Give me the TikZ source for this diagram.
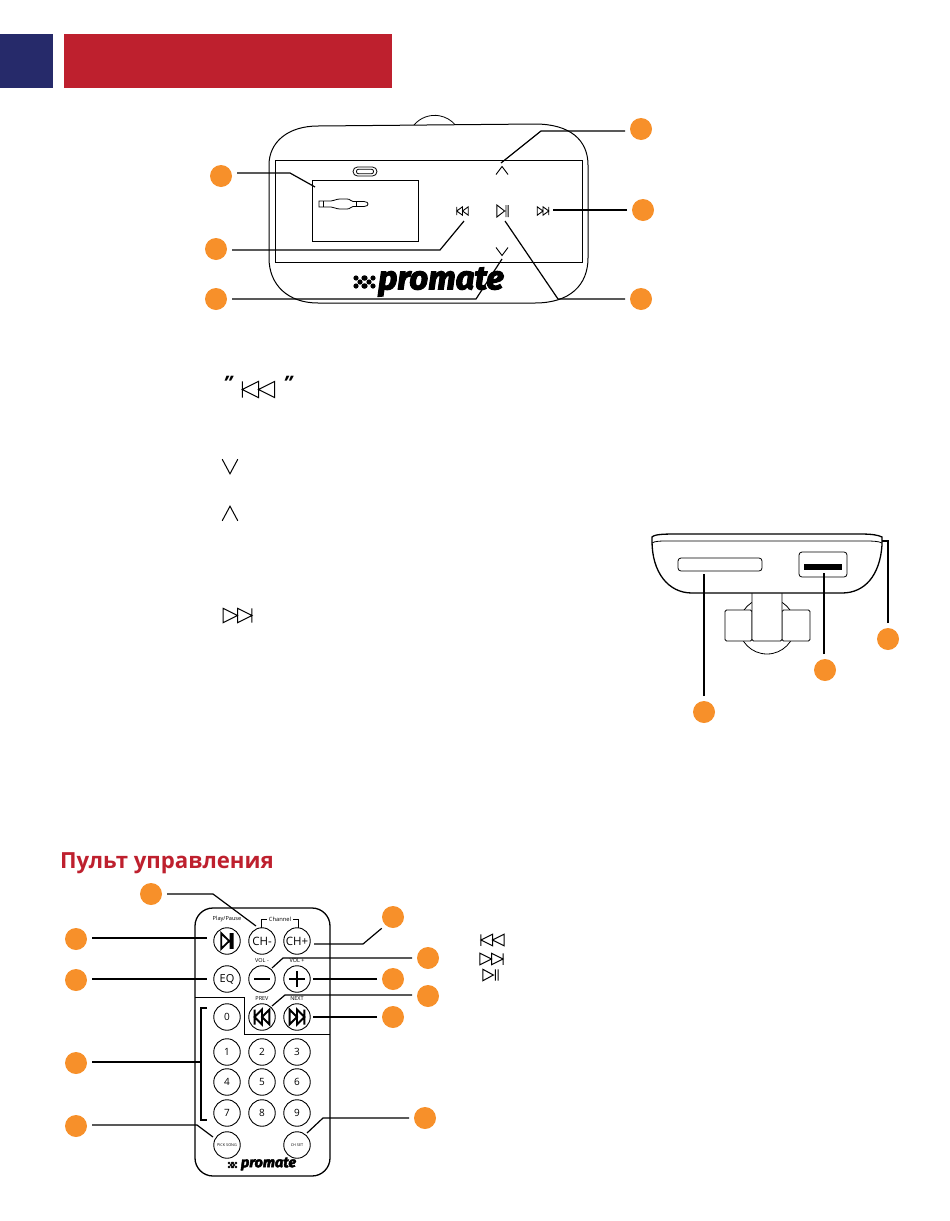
\documentclass[tikz,border=0pt]{standalone}
\usepackage{fontspec}
\setmainfont{Open Sans}
\newfontfamily\logofont{Fira Sans}[FakeBold=3.2]
\usetikzlibrary{positioning}
\definecolor{promateRed}{RGB}{190,32,46}
\definecolor{promateBlue}{RGB}{38,42,106}
\definecolor{badgeOrange}{RGB}{247,144,42}

\tikzset{
	previcon/.pic={\draw (-12,-6) -- (-12,6) (-12,0) -- (0,-6) -- (0,6) -- cycle (0,0) -- (12,-6) -- (12,6) -- cycle;},
	nexticon/.pic={\draw (12,-6) -- (12,6) (12,0) -- (0,-6) -- (0,6) -- cycle (0,0) -- (-12,-6) -- (-12,6) -- cycle;},
	playicon/.pic={\draw (-8,-6) -- (-8,6) -- (3,0) -- cycle (5,-6) -- (5,6) (8,-6) -- (8,6);},
	upicon/.pic={\draw (-6,4) -- (0,-4) -- (6,4);},
	downicon/.pic={\draw (-6,-4) -- (0,4) -- (6,-4);},
	logomark/.pic={\fill (-4,-4) circle (2.6) (4,-4) circle (2.6) (0,0) circle (2.6) (-4,4) circle (2.6) (4,4) circle (2.6);}
}

\begin{document}
\begin{tikzpicture}[x=1pt,y=-1pt]
	\tikzstyle{badge} = [circle,fill=badgeOrange,minimum size=22pt,inner sep=0,outer sep=5pt]
	\tikzstyle{leader} = [line width=1.2pt]
	\tikzstyle{thinline} = [line width=0.8pt]
	\tikzstyle{rbutton} = [circle,draw,line width=0.9pt,minimum size=26.5pt,inner sep=0,font=\fontsize{10}{10}\selectfont]
	\tikzstyle{rlabel} = [inner sep=0,font=\fontsize{5.5}{6}\selectfont]
	\tikzstyle{boxicon} = [line width=0.9pt]
	\tikzstyle{texticon} = [line width=1pt]
	\tikzstyle{fatglyph} = [line width=1.9pt]

	\useasboundingbox (0,0) rectangle (950,1221);

	% header bars
	\fill[promateBlue] (0,34) rectangle (53,88);
	\fill[promateRed] (64,34) rectangle (392,88);

	% transmitter, front view
	\draw[thinline] (414,125) arc (-140:-40:27);
	\draw[line width=1pt,fill=white] (318,126) -- (535,124) .. controls (570,124) and (588,140) .. (588,165) -- (588,258) .. controls (588,285) and (570,303) .. (535,303) -- (318,303) .. controls (288,303) and (269,285) .. (269,258) -- (269,165) .. controls (269,142) and (288,126) .. (318,126) -- cycle;
	\node[draw,thinline,minimum width=307pt,minimum height=102pt] (panel) at (428.5,211) {};
	\node[draw,thinline,minimum width=106pt,minimum height=61pt] (display) at (365,210.5) {};
	\node[draw,thinline,rounded corners=4.5pt,minimum width=24pt,minimum height=9pt,inner sep=0] (pill) at (365,171.5) {};
	\node[draw,thinline,rounded corners=2pt,minimum width=17pt,minimum height=4.5pt,inner sep=0] (pillin) at (365,171.5) {};
	\draw[thinline] (319,201) -- (331,201) .. controls (334,201) and (336,199) .. (340,199) -- (347,199) .. controls (351,199) and (350,201.5) .. (353,201.5) -- (364,201.5) .. controls (367,201.5) and (368,203) .. (368,204) .. controls (368,205) and (367,206.5) .. (364,206.5) -- (353,206.5) .. controls (350,206.5) and (351,209) .. (347,209) -- (340,209) .. controls (336,209) and (334,207) .. (331,207) -- (319,207) -- cycle;
	\draw[thinline] (323,201) -- (323,207) (356,201.5) -- (356,206.5);

	\pic[boxicon,xscale=0.48,yscale=0.7] (iprev) at (462.5,211) {previcon};
	\pic[boxicon,xscale=0.7,yscale=1] (iplay) at (502.5,211) {playicon};
	\pic[boxicon,xscale=0.48,yscale=0.7] (inext) at (543,211) {nexticon};
	\pic[boxicon] (iup) at (502,170.5) {upicon};
	\pic[boxicon] (idown) at (502,251.5) {downicon};

	\pic (fmark) at (360,282) {logomark};
	\pic[xshift=9pt] (fmarkb) at (360,282) {logomark};
	\node[inner sep=0,font=\logofont\bfseries\itshape\fontsize{33}{33}\selectfont] (flogo) at (441,282) {promate};

	\node[badge] (f1) at (221,176) {};
	\node[badge] (f2) at (216,249) {};
	\node[badge] (f3) at (216,299) {};
	\node[badge] (f4) at (641,129) {};
	\node[badge] (f5) at (643,210) {};
	\node[badge] (f6) at (641,299) {};

	\coordinate (e1) at (290,173);
	\coordinate (e2) at (440,250);
	\coordinate (e3) at (476,299);
	\coordinate (e4) at (541,131);
	\coordinate (e5) at (553,210);
	\coordinate (e6) at (558,299);
	\coordinate (t1) at (315,187);
	\coordinate (t2) at (464,221);
	\coordinate (t3) at (502,259);
	\coordinate (t4) at (501,163);
	\coordinate (t6) at (505,221);

	\draw[leader] (f1.east |- e1) -- (e1) -- (t1);
	\draw[leader] (f2.east |- e2) -- (e2) -- (t2);
	\draw[leader] (f3.east |- e3) -- (e3) -- (t3);
	\draw[leader] (f4.west |- e4) -- (e4) -- (t4);
	\draw[leader] (f5.west |- e5) -- (e5);
	\draw[leader] (f6.west |- e6) -- (e6) -- (t6);

	% key symbols beside the text
	\node[inner sep=0,font=\bfseries\itshape\fontsize{20}{20}\selectfont] (qleft) at (228,383) {"};
	\node[inner sep=0,font=\bfseries\itshape\fontsize{20}{20}\selectfont] (qright) at (288,383) {"};
	\pic[texticon,scale=1.35] (sprev) at (258.5,389.5) {previcon};
	\pic[texticon,scale=1.3,yscale=1.4] (sdown) at (230,466.5) {downicon};
	\pic[texticon,scale=1.3,yscale=1.4] (sup) at (230,513.5) {upicon};
	\pic[texticon,scale=1.2] (snext) at (237.5,615.5) {nexticon};

	% transmitter, end view
	\draw[thinline] (767,626) circle (28);
	\draw[thinline,fill=white,rounded corners=1.5pt] (725,610) rectangle (752,641);
	\draw[thinline,fill=white,rounded corners=1.5pt] (782,610) rectangle (810,641);
	\draw[thinline,fill=white,rounded corners=1.5pt] (752,590) rectangle (782,641);
	\draw[line width=1.3pt,fill=white] (652,537) .. controls (655,534) and (665,534) .. (680,534) -- (860,534) .. controls (872,534) and (878,535) .. (882,537) -- (882,545) .. controls (880,575) and (865,593) .. (842,593) -- (692,593) .. controls (668,593) and (652,572) .. (652,541) -- cycle;
	\draw[thinline] (652,543) .. controls (655,541) and (660,541) .. (670,541) -- (865,541) .. controls (872,541) and (878,541) .. (882,543);
	\node[draw,thinline,rounded corners=3pt,minimum width=84pt,minimum height=13pt] (slot) at (720,564.5) {};
	\node[draw,thinline,rounded corners=3pt,minimum width=48pt,minimum height=25pt] (usb) at (823,564.5) {};
	\fill (804,564) rectangle (842,570);

	\node[badge] (s1) at (704,712) {};
	\node[badge] (s2) at (825,670) {};
	\node[badge] (s3) at (888,639) {};

	\coordinate (t7) at (704,574);
	\coordinate (t8) at (824,573);
	\coordinate (t9) at (882,541);
	\coordinate (e9) at (888,541);

	\draw[leader] (s1.north -| t7) -- (t7);
	\draw[leader] (s2.north -| t8) -- (t8);
	\draw[leader] (s3.north) -- (e9) -- (t9);

	% remote control
	\node[font=\bfseries\fontsize{22.2}{22}\selectfont,text=promateRed,inner sep=0,anchor=west] (title) at (60,863) {Пульт управления};

	\draw[line width=1.3pt,rounded corners=18pt] (195,908) rectangle (330,1176);
	\draw[thinline] (195,997) -- (244,997) -- (244,1034) -- (330,1034);

	\node[rbutton] (bplay) at (227,941) {};
	\node[rbutton,font=\fontsize{11.5}{12}\selectfont] (bchm) at (262,941) {CH-};
	\node[rbutton,font=\fontsize{11.5}{12}\selectfont] (bchp) at (297,941) {CH+};
	\node[rbutton,font=\fontsize{11}{11}\selectfont] (beq) at (227,979) {EQ};
	\node[rbutton] (bvolm) at (262,979) {};
	\node[rbutton] (bvolp) at (297,979) {};
	\node[rbutton] (b0) at (227,1017) {0};
	\node[rbutton] (bprev) at (262,1017) {};
	\node[rbutton] (bnext) at (297,1017) {};
	\node[rbutton] (b1) at (227,1052) {1};
	\node[rbutton] (b2) at (262,1052) {2};
	\node[rbutton] (b3) at (297,1052) {3};
	\node[rbutton] (b4) at (227,1082) {4};
	\node[rbutton] (b5) at (262,1082) {5};
	\node[rbutton] (b6) at (297,1082) {6};
	\node[rbutton] (b7) at (227,1113) {7};
	\node[rbutton] (b8) at (262,1113) {8};
	\node[rbutton] (b9) at (297,1113) {9};
	\node[rbutton,font=\fontsize{3.8}{4}\selectfont] (bpick) at (227,1145) {PICK SONG};
	\node[rbutton,font=\fontsize{3.8}{4}\selectfont] (bset) at (297,1145) {CH SET};

	\pic[fatglyph,xscale=0.72,yscale=1.3] (gplay) at (227,941) {playicon};
	\pic[fatglyph,xscale=0.62,yscale=1.25] (gprev) at (262,1017) {previcon};
	\pic[fatglyph,xscale=0.62,yscale=1.25] (gnext) at (297,1017) {nexticon};
	\draw[fatglyph] (254,979) -- (270,979);
	\draw[fatglyph] (289,979) -- (305,979) (297,971) -- (297,987);

	\node[rlabel,font=\fontsize{5.6}{6}\selectfont] (lplay) at (227,919) {Play/Pause};
	\node[rlabel,font=\fontsize{5.8}{6}\selectfont,outer sep=2pt] (lchan) at (280,919) {Channel};
	\node[rlabel] (lvolm) at (262,961) {VOL -};
	\node[rlabel] (lvolp) at (297,961) {VOL +};
	\node[rlabel] (lprev) at (262,999) {PREV};
	\node[rlabel] (lnext) at (297,999) {NEXT};
	\draw[thinline] (lchan.west) -- (261,919) -- (261,928);
	\draw[thinline] (lchan.east) -- (298,919) -- (298,928);

	\pic[scale=0.5] (rmark) at (231,1165) {logomark};
	\pic[scale=0.5,xshift=6pt] (rmarkb) at (231,1165) {logomark};
	\node[inner sep=0,font=\logofont\bfseries\itshape\fontsize{14.5}{15}\selectfont] (rlogo) at (268.5,1164) {promate};

	\node[badge] (r1) at (151,894) {};
	\node[badge] (r2) at (76,939) {};
	\node[badge] (r3) at (76,980) {};
	\node[badge] (r4) at (76,1063) {};
	\node[badge] (r5) at (76,1126) {};
	\node[badge] (r6) at (393,917) {};
	\node[badge] (r7) at (428,958) {};
	\node[badge] (r8) at (393,979) {};
	\node[badge] (r9) at (428,996) {};
	\node[badge] (r10) at (393,1017) {};
	\node[badge] (r11) at (425,1118) {};

	\coordinate (c1) at (213,894);
	\coordinate (c5) at (197,1125);
	\coordinate (c6) at (363,944);
	\coordinate (c7) at (283,958);
	\coordinate (c9) at (285,995);
	\coordinate (c11) at (323,1118);
	\coordinate (d1) at (256,926);
	\coordinate (d2) at (207,938);
	\coordinate (d3) at (207,979);
	\coordinate (d4) at (201,1062);
	\coordinate (d5) at (213,1137);
	\coordinate (d6) at (314,944);
	\coordinate (d7) at (272,968);
	\coordinate (d8) at (313,979);
	\coordinate (d9) at (272,1006);
	\coordinate (d10) at (313,1017);
	\coordinate (d11) at (307,1133);

	\draw[leader] (r1.east |- c1) -- (c1) -- (d1);
	\draw[leader] (r2.east |- d2) -- (d2);
	\draw[leader] (r3.east |- d3) -- (d3);
	\draw[leader] (r4.east |- d4) -- (d4);
	\draw[leader] (207,1008) -- (201,1008) -- (201,1120) -- (207,1120);
	\draw[leader] (r5.east |- c5) -- (c5) -- (d5);
	\draw[leader] (r6.south west) -- (c6) -- (d6);
	\draw[leader] (r7.west |- c7) -- (c7) -- (d7);
	\draw[leader] (r8.west |- d8) -- (d8);
	\draw[leader] (r9.west |- c9) -- (c9) -- (d9);
	\draw[leader] (r10.west |- d10) -- (d10);
	\draw[leader] (r11.west |- c11) -- (c11) -- (d11);

	% key symbols beside the remote
	\pic[texticon,scale=0.96] (kprev) at (492.5,940) {previcon};
	\pic[texticon,scale=0.96] (knext) at (491.5,959) {nexticon};
	\pic[texticon,scale=0.95] (kplay) at (490.5,975) {playicon};
\end{tikzpicture}
\end{document}
